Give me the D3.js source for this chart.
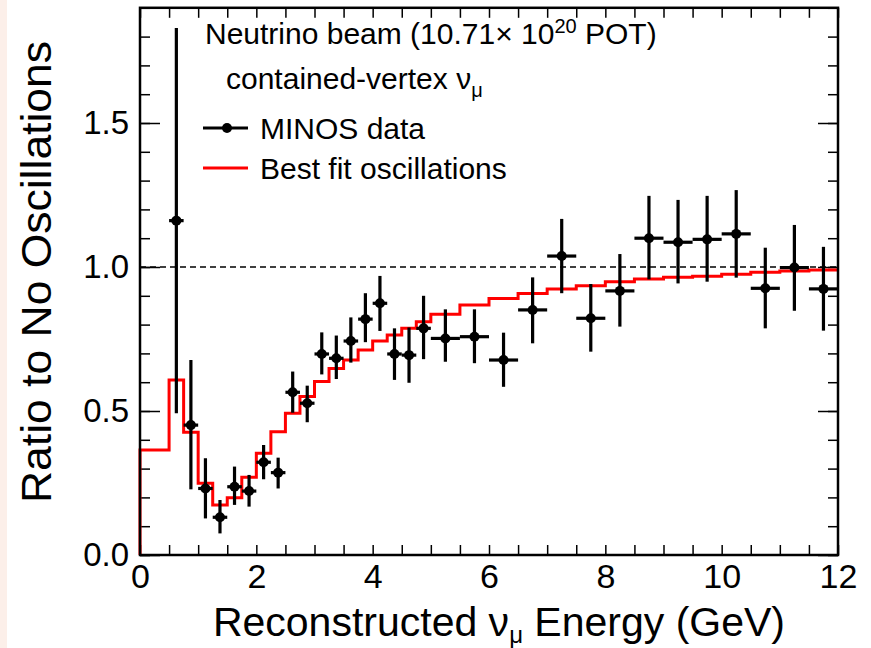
<!DOCTYPE html>
<html lang="en">
<head>
  <meta charset="UTF-8">
  <script src="https://d3js.org/d3.v7.min.js"></script>
  <title>MINOS ratio</title>
  <style>
    body { margin: 0; background: #fff; }
    text { font-family: "Liberation Sans", Arial, sans-serif; }
  </style>
</head>
<body>
  <svg id="chart" width="871" height="648"></svg>
  <script>
    // bin edges of the best fit histogram (GeV)
    var fitEdges = [0, 0.5, 0.75, 1, 1.25, 1.5, 1.75, 2, 2.25, 2.5, 2.75, 3, 3.25, 3.5, 3.75,
      4, 4.25, 4.5, 4.75, 5, 5.5, 6, 6.5, 7, 7.5, 8, 8.5, 9, 9.5, 10, 10.5, 11, 11.5, 12];
    // best fit oscillations, one value per bin
    var fitRatio = [0.365, 0.608, 0.426, 0.249, 0.174, 0.199, 0.27, 0.353, 0.428, 0.492,
      0.55, 0.602, 0.648, 0.677, 0.712, 0.743, 0.764, 0.787, 0.81, 0.836, 0.868, 0.891,
      0.908, 0.924, 0.935, 0.949, 0.958, 0.964, 0.968, 0.975, 0.982, 0.986, 0.99];

    // MINOS data: one point per bin, starting at the 0.5-0.75 GeV bin
    var dataRatio = [1.161, 0.451, 0.231, 0.131, 0.237, 0.222, 0.322, 0.286, 0.565, 0.527,
      0.698, 0.683, 0.743, 0.819, 0.874, 0.698, 0.694, 0.787, 0.752, 0.758, 0.677, 0.851,
      1.038, 0.822, 0.917, 1.1, 1.086, 1.096, 1.115, 0.926, 0.998, 0.924];
    var dataTop = [1.83, 0.677, 0.336, 0.191, 0.307, 0.278, 0.382, 0.338, 0.637, 0.588,
      0.773, 0.762, 0.825, 0.909, 0.969, 0.787, 0.79, 0.9, 0.853, 0.853, 0.772, 0.964,
      1.167, 0.941, 1.045, 1.247, 1.233, 1.247, 1.267, 1.067, 1.146, 1.07];
    var dataBottom = [0.492, 0.228, 0.127, 0.075, 0.174, 0.168, 0.263, 0.231, 0.494, 0.461,
      0.627, 0.611, 0.668, 0.739, 0.778, 0.608, 0.598, 0.68, 0.671, 0.666, 0.584, 0.735,
      0.909, 0.706, 0.793, 0.957, 0.943, 0.949, 0.963, 0.787, 0.848, 0.779];

    var xLabels = [0, 2, 4, 6, 8, 10, 12];
    var yLabels = [0, 0.5, 1.0, 1.5];

    var svg = d3.select("#chart");

    // faint strip on the left edge
    svg.append("rect").attr("x", 0).attr("y", 0).attr("width", 7).attr("height", 648)
      .attr("fill", "#fcefe9");

    var x = d3.scaleLinear().domain([0, 12]).range([140, 838]);
    var y = d3.scaleLinear().domain([0, 1.9]).range([555, 7.8]);

    // ticks (ROOT style, pointing inwards, on all four sides)
    var xMinor = d3.range(0, 12.001, 0.5);
    var yMinor = d3.range(0, 1.901, 0.1);
    var yMajor = [0, 0.5, 1.0, 1.5];

    function noDomain(g) { g.select(".domain").remove(); }

    svg.append("g").attr("transform", "translate(0,555)")
      .call(d3.axisBottom(x).tickValues(xMinor).tickSize(-10).tickFormat(""))
      .call(noDomain);
    svg.append("g").attr("transform", "translate(0,7.8)")
      .call(d3.axisTop(x).tickValues(xMinor).tickSize(-10).tickFormat(""))
      .call(noDomain);
    svg.append("g").attr("transform", "translate(140,0)")
      .call(d3.axisLeft(y).tickValues(yMinor).tickSize(-10).tickFormat(""))
      .call(noDomain);
    svg.append("g").attr("transform", "translate(140,0)")
      .call(d3.axisLeft(y).tickValues(yMajor).tickSize(-20).tickFormat(""))
      .call(noDomain);
    svg.append("g").attr("transform", "translate(838,0)")
      .call(d3.axisRight(y).tickValues(yMinor).tickSize(-10).tickFormat(""))
      .call(noDomain);
    svg.append("g").attr("transform", "translate(838,0)")
      .call(d3.axisRight(y).tickValues(yMajor).tickSize(-20).tickFormat(""))
      .call(noDomain);
    svg.selectAll(".tick line").attr("stroke", "#000").attr("stroke-width", 1.5);

    // tick labels
    var xl = svg.append("g").attr("transform", "translate(0,555)")
      .call(d3.axisBottom(x).tickValues(xLabels).tickSize(0).tickPadding(9).tickFormat(d3.format("d")))
      .call(noDomain);
    xl.selectAll("text").attr("font-size", 34).attr("font-family", "Liberation Sans, Arial, sans-serif")
      .attr("fill", "#000");

    var yl = svg.append("g").attr("transform", "translate(140,0)")
      .call(d3.axisLeft(y).tickValues(yLabels).tickSize(0).tickPadding(11).tickFormat(d3.format(".1f")))
      .call(noDomain);
    yl.selectAll("text").attr("font-size", 33).attr("font-family", "Liberation Sans, Arial, sans-serif")
      .attr("fill", "#000");

    // dashed line at ratio 1
    svg.append("line")
      .attr("x1", x(0)).attr("x2", x(12)).attr("y1", y(1)).attr("y2", y(1))
      .attr("stroke", "#000").attr("stroke-width", 1.6).attr("stroke-dasharray", "6,4");

    // best fit histogram as a step line
    var stepPts = [[fitEdges[0], 0]];
    fitRatio.forEach(function(v, i) {
      stepPts.push([fitEdges[i], v]);
      stepPts.push([fitEdges[i + 1], v]);
    });
    svg.append("path")
      .datum(stepPts)
      .attr("d", d3.line().x(function(d) { return x(d[0]); }).y(function(d) { return y(d[1]); }))
      .attr("fill", "none").attr("stroke", "#ff0000").attr("stroke-width", 3);

    // data points with error bars
    var points = dataRatio.map(function(v, i) {
      return { lo: fitEdges[i + 1], hi: fitEdges[i + 2], v: v, top: dataTop[i], bot: dataBottom[i] };
    });
    var pg = svg.append("g");
    pg.selectAll(".ex").data(points).enter().append("line")
      .attr("x1", function(d) { return x(d.lo); }).attr("x2", function(d) { return x(d.hi); })
      .attr("y1", function(d) { return y(d.v); }).attr("y2", function(d) { return y(d.v); })
      .attr("stroke", "#000").attr("stroke-width", 3.2);
    pg.selectAll(".ey").data(points).enter().append("line")
      .attr("x1", function(d) { return x((d.lo + d.hi) / 2); }).attr("x2", function(d) { return x((d.lo + d.hi) / 2); })
      .attr("y1", function(d) { return y(d.top); }).attr("y2", function(d) { return y(d.bot); })
      .attr("stroke", "#000").attr("stroke-width", 3.2);
    pg.selectAll("circle").data(points).enter().append("circle")
      .attr("cx", function(d) { return x((d.lo + d.hi) / 2); })
      .attr("cy", function(d) { return y(d.v); })
      .attr("r", 5).attr("fill", "#000");

    // frame
    svg.append("rect").attr("x", 140).attr("y", 7.8).attr("width", 698).attr("height", 547.2)
      .attr("fill", "none").attr("stroke", "#000").attr("stroke-width", 2.5);

    // legend and labels
    var t1 = svg.append("text").attr("x", 205).attr("y", 44).attr("font-size", 30);
    t1.append("tspan").text("Neutrino beam (10.71\u00d7 10");
    t1.append("tspan").attr("font-size", 20).attr("dy", -11).text("20");
    t1.append("tspan").attr("dy", 11).text(" POT)");

    var t2 = svg.append("text").attr("x", 226).attr("y", 89).attr("font-size", 30);
    t2.append("tspan").text("contained-vertex \u03bd");
    t2.append("tspan").attr("font-size", 20).attr("dy", 8).text("\u03bc");

    svg.append("line").attr("x1", 203).attr("x2", 248).attr("y1", 128).attr("y2", 128)
      .attr("stroke", "#000").attr("stroke-width", 3.2);
    svg.append("circle").attr("cx", 227).attr("cy", 128).attr("r", 5).attr("fill", "#000");
    svg.append("text").attr("x", 260).attr("y", 139).attr("font-size", 30).text("MINOS data");

    svg.append("line").attr("x1", 203).attr("x2", 248).attr("y1", 168).attr("y2", 168)
      .attr("stroke", "#ff0000").attr("stroke-width", 3);
    svg.append("text").attr("x", 260).attr("y", 179).attr("font-size", 30).text("Best fit oscillations");

    // axis titles
    var xt = svg.append("text").attr("x", 785).attr("y", 636).attr("font-size", 41)
      .attr("text-anchor", "end");
    xt.append("tspan").text("Reconstructed \u03bd");
    xt.append("tspan").attr("font-size", 24).attr("dy", 7).text("\u03bc");
    xt.append("tspan").attr("dy", -7).text(" Energy (GeV)");

    svg.append("text")
      .attr("transform", "translate(51,272) rotate(-90)")
      .attr("text-anchor", "middle").attr("font-size", 43)
      .attr("textLength", 462).attr("lengthAdjust", "spacingAndGlyphs")
      .text("Ratio to No Oscillations");
  </script>
</body>
</html>
